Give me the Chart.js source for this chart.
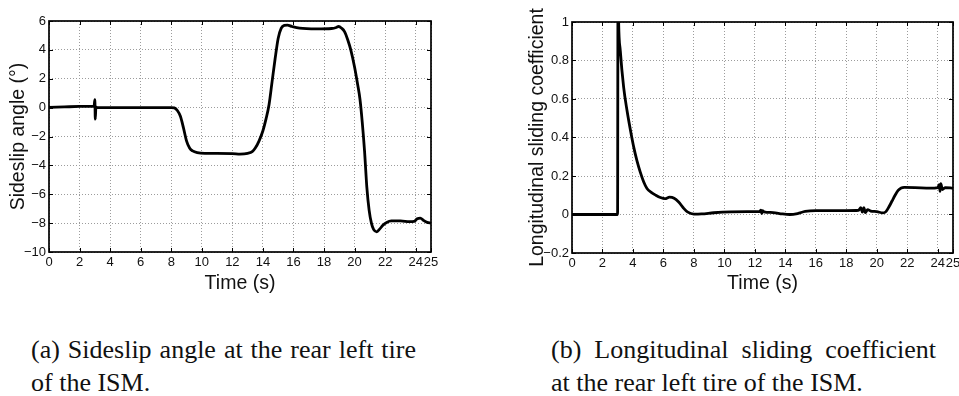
<!DOCTYPE html>
<html><head><meta charset="utf-8">
<script src="https://cdn.jsdelivr.net/npm/chart.js@4/dist/chart.umd.min.js"></script>
<style>
html,body{margin:0;padding:0;background:#fff;overflow:hidden;width:959px;height:396px;}
#ca{position:absolute;left:0;top:0;}
#cb{position:absolute;left:479px;top:0;}
.cap{position:absolute;top:334px;width:385px;font-family:"Liberation Serif","Times New Roman",serif;font-size:26px;line-height:32.5px;color:#111;text-align:justify;}
</style></head><body>
<canvas id="ca" width="480" height="300"></canvas>
<canvas id="cb" width="480" height="300"></canvas>
<div class="cap" style="left:31px">(a) Sideslip angle at the rear left tire of the ISM.</div>
<div class="cap" style="left:551px">(b) Longitudinal sliding coefficient at the rear left tire of the ISM.</div>
<script>
// ---- data: chart (a) sideslip angle ----
const timeA = [0,1,2,2.95,3.0,3.03,3.07,3.15,4,6,8.0,8.2,8.4,8.6,8.8,9.0,9.2,9.4,9.7,10.2,11,12,12.5,13.0,13.3,13.5,13.75,14.0,14.2,14.4,14.6,14.8,15.0,15.2,15.4,15.6,15.9,16.4,17.5,18.5,18.8,18.95,19.15,19.35,19.55,19.75,20.0,20.2,20.35,20.5,20.65,20.8,20.95,21.1,21.25,21.45,21.65,21.85,22.1,22.4,23.0,23.6,23.9,24.1,24.3,24.5,24.75,25];
const sideslip = [0.02,0.05,0.08,0.1,0.55,-0.8,0.05,0.0,0.0,0.0,0.0,-0.02,-0.2,-0.6,-1.4,-2.3,-2.8,-3.0,-3.12,-3.17,-3.17,-3.18,-3.22,-3.17,-3.05,-2.8,-2.3,-1.6,-0.8,0.2,1.8,3.4,4.8,5.5,5.7,5.72,5.62,5.5,5.45,5.48,5.55,5.62,5.5,5.25,4.7,4.0,2.8,1.6,0.6,-1.0,-3.0,-5.5,-7.1,-8.0,-8.45,-8.6,-8.4,-8.15,-7.95,-7.85,-7.85,-7.9,-7.88,-7.7,-7.65,-7.8,-7.95,-8.0];
// ---- data: chart (b) longitudinal sliding coefficient ----
const timeB = [0,2.99,3.02,3.06,3.17,3.39,3.61,3.83,4.05,4.26,4.48,4.7,4.92,5.2,5.5,5.8,6.1,6.4,6.7,7.0,7.3,7.6,8.0,8.5,9.3,10.4,11.5,12.3,12.4,12.45,12.5,12.6,13.2,13.8,14.3,14.8,15.3,16,17,18,18.8,18.95,19.05,19.15,19.25,19.4,19.6,20.0,20.4,20.6,20.8,21.0,21.2,21.4,21.6,21.8,22.5,23.5,24.0,24.1,24.15,24.2,24.3,24.5,25];
const sliding = [0,0,1.25,1.0,0.85,0.66,0.54,0.44,0.35,0.28,0.22,0.17,0.135,0.115,0.1,0.088,0.082,0.09,0.085,0.065,0.035,0.012,0.002,0.003,0.009,0.014,0.015,0.015,0.022,0.005,0.02,0.014,0.01,0.003,0.0,0.005,0.016,0.02,0.02,0.02,0.022,0.035,0.012,0.035,0.01,0.025,0.018,0.015,0.008,0.015,0.04,0.07,0.1,0.125,0.138,0.141,0.14,0.137,0.14,0.155,0.12,0.16,0.13,0.14,0.137];
// ---- ticks ----
const xTickValues = [0,2,4,6,8,10,12,14,16,18,20,22,24,25];
const xTickLabels = ['0','2','4','6','8','10','12','14','16','18','20','22','24','25'];
const yTickValuesA = [-10,-8,-6,-4,-2,0,2,4,6];
const yTickLabelsA = ['\u221210','\u22128','\u22126','\u22124','\u22122','0','2','4','6'];
const yTickValuesB = [-0.2,0,0.2,0.4,0.6,0.8,1];
const yTickLabelsB = ['\u22120.2','0','0.2','0.4','0.6','0.8','1'];

const boxPlugin = {
  id: 'matlabBox',
  afterDatasetsDraw(chart) {
    const {ctx, chartArea: a, scales: {x, y}} = chart;
    ctx.save();
    ctx.strokeStyle = '#000';
    ctx.lineWidth = 1;
    ctx.beginPath();
    x.ticks.forEach(t => {
      const p = Math.round(x.getPixelForValue(t.value)) + 0.5;
      ctx.moveTo(p, a.bottom); ctx.lineTo(p, a.bottom - 4);
      ctx.moveTo(p, a.top); ctx.lineTo(p, a.top + 4);
    });
    y.ticks.forEach(t => {
      const p = Math.round(y.getPixelForValue(t.value)) + 0.5;
      ctx.moveTo(a.left, p); ctx.lineTo(a.left + 4, p);
      ctx.moveTo(a.right, p); ctx.lineTo(a.right - 4, p);
    });
    ctx.stroke();
    ctx.lineWidth = 1.7;
    ctx.strokeRect(a.left, a.top, a.right - a.left, a.bottom - a.top);
    ctx.restore();
  }
};

function makeChart(id, times, values, yMin, yMax, yVals, yLabs, yTitle, g) {
  const pts = times.map((t, i) => ({x: t, y: values[i]}));
  return new Chart(document.getElementById(id), {
    type: 'line',
    data: {datasets: [{data: pts, borderColor: '#000', borderWidth: 2.8, pointRadius: 0,
      cubicInterpolationMode: 'monotone', clip: 0, fill: false}]},
    options: {
      responsive: false, animation: false, devicePixelRatio: 1,
      layout: {padding: {left: 0, top: g.top, right: g.right, bottom: 0}},
      plugins: {legend: {display: false}, tooltip: {enabled: false}},
      scales: {
        x: {
          type: 'linear', min: 0, max: 25,
          afterBuildTicks: s => { s.ticks = xTickValues.map(v => ({value: v})); },
          afterFit: s => { s.height = g.xh; s.paddingLeft = 0; s.paddingRight = 0; },
          ticks: {autoSkip: false, maxRotation: 0, minRotation: 0, padding: 2.5, color: '#111',
            font: {family: 'Liberation Sans', size: 13},
            callback: (v, i) => xTickLabels[i]},
          grid: {color: '#9c9c9c', lineWidth: 1, drawTicks: false},
          border: {display: false, dash: [1, 2]},
          title: {display: true, text: 'Time (s)', color: '#111',
            font: {family: 'Liberation Sans', size: 19.5}, padding: {top: 0, bottom: 5}}
        },
        y: {
          type: 'linear', min: yMin, max: yMax,
          afterBuildTicks: s => { s.ticks = yVals.map(v => ({value: v})); },
          afterFit: s => { s.width = g.yw; s.paddingTop = 0; s.paddingBottom = 0; },
          ticks: {autoSkip: false, padding: 3, color: '#111',
            font: {family: 'Liberation Sans', size: 13},
            callback: (v, i) => yLabs[i]},
          grid: {color: '#9c9c9c', lineWidth: 1, drawTicks: false},
          border: {display: false, dash: [1, 2]},
          title: {display: true, text: yTitle, color: '#111',
            font: {family: 'Liberation Sans', size: 19.5}, padding: {top: g.ytp, bottom: 0}}
        }
      }
    },
    plugins: [boxPlugin]
  });
}

makeChart('ca', timeA, sideslip, -10, 6, yTickValuesA, yTickLabelsA, 'Sideslip angle (\u00b0)',
  {top: 21, right: 49, xh: 48, yw: 49, ytp: 6.8});
makeChart('cb', timeB, sliding, -0.2, 1, yTickValuesB, yTickLabelsB, 'Longitudinal sliding coefficient',
  {top: 22, right: 6, xh: 47, yw: 93, ytp: 47.3});
</script>
</body></html>
